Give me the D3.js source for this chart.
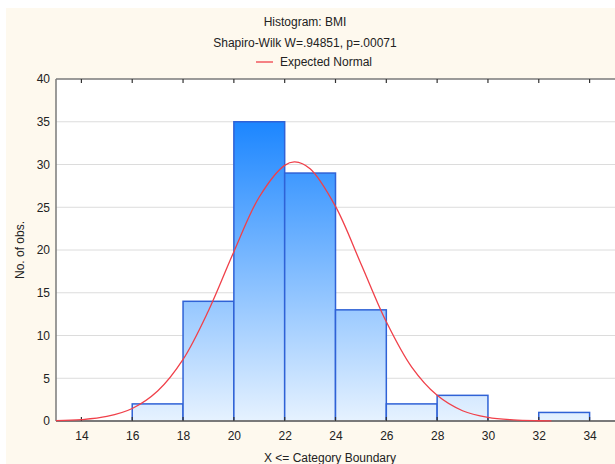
<!DOCTYPE html>
<html><head><meta charset="utf-8">
<script src="https://cdn.jsdelivr.net/npm/d3@7"></script>
<style>
html,body{margin:0;padding:0;background:#fff;}
svg{display:block;}
text{font-family:"Liberation Sans",Arial,sans-serif;fill:#222;}
</style></head><body>
<svg id="c" width="615" height="464"></svg>
<script>
// Histogram bins (lower, upper boundary) and counts
const binLower = [16, 18, 20, 22, 24, 26, 28, 30, 32];
const binUpper = [18, 20, 22, 24, 26, 28, 30, 32, 34];
const counts   = [2, 14, 35, 29, 13, 2, 3, 0, 1];
// Expected normal curve
const curveX = [13, 14, 15, 16, 17, 18, 19, 20, 21, 22, 22.4, 23, 24, 25, 26, 27, 28, 29, 30, 31, 32, 32.5];
const curveY = [0.04, 0.16, 0.53, 1.46, 3.5, 7.2, 12.9, 19.8, 26.2, 29.9, 30.3, 29.5, 25.1, 18.4, 11.6, 6.3, 3.0, 1.2, 0.42, 0.13, 0.03, 0.01];
const xTicks = [14, 16, 18, 20, 22, 24, 26, 28, 30, 32, 34];
const yTicks = [0, 5, 10, 15, 20, 25, 30, 35, 40];

const svg = d3.select("#c");
const W = 615, H = 464;
const m = {l: 56, t: 79, r: 0, b: 43};
svg.append("rect").attr("x", 6).attr("y", 8).attr("width", W - 6).attr("height", H - 8).attr("fill", "#fef9ee");

const x = d3.scaleLinear().domain([13, 35]).range([m.l, W - m.r]);
const y = d3.scaleLinear().domain([0, 40]).range([H - m.b, m.t]);

svg.append("rect").attr("x", m.l).attr("y", m.t).attr("width", W - m.l).attr("height", y(0) - m.t).attr("fill", "#fff");

const defs = svg.append("defs");
const g = defs.append("linearGradient").attr("id", "bg").attr("gradientUnits", "userSpaceOnUse")
  .attr("x1", 0).attr("x2", 0).attr("y1", y(35)).attr("y2", y(0));
g.append("stop").attr("offset", 0).attr("stop-color", "#1c86ff");
g.append("stop").attr("offset", 1).attr("stop-color", "#e6f2ff");

// gridlines
svg.append("g").selectAll("line").data(yTicks.filter(d => d > 0 && d < 40)).join("line")
  .attr("x1", m.l).attr("x2", W).attr("y1", d => y(d)).attr("y2", d => y(d))
  .attr("stroke", "#dcdcdc").attr("stroke-width", 1);

// bars
const bins = counts.map((c, i) => ({lo: binLower[i], hi: binUpper[i], c}));
svg.append("g").selectAll("rect").data(bins.filter(d => d.c > 0)).join("rect")
  .attr("x", d => x(d.lo)).attr("width", d => x(d.hi) - x(d.lo))
  .attr("y", d => y(d.c)).attr("height", d => y(0) - y(d.c))
  .attr("fill", "url(#bg)").attr("stroke", "#2f62d6").attr("stroke-width", 1.5);

// axes
const xb = d3.axisBottom(x).tickValues(xTicks).tickSize(0).tickPadding(10);
const gx = svg.append("g").attr("transform", `translate(0,${y(0)})`).call(xb);
gx.select(".domain").remove();
gx.selectAll("text").attr("font-size", 12).attr("font-family", "Liberation Sans, Arial, sans-serif").attr("fill", "#222");

const yl = d3.axisLeft(y).tickValues(yTicks).tickSize(0).tickPadding(6);
const gy = svg.append("g").attr("transform", `translate(${m.l},0)`).call(yl);
gy.select(".domain").remove();
gy.selectAll("text").attr("font-size", 12).attr("font-family", "Liberation Sans, Arial, sans-serif").attr("fill", "#222");

svg.append("line").attr("x1", m.l).attr("x2", W).attr("y1", y(0)).attr("y2", y(0)).attr("stroke", "#7a7a7a").attr("stroke-width", 2);
svg.append("line").attr("x1", m.l).attr("x2", W).attr("y1", m.t).attr("y2", m.t).attr("stroke", "#7a7a7a").attr("stroke-width", 1.5);
svg.append("line").attr("x1", m.l).attr("x2", m.l).attr("y1", m.t).attr("y2", y(0)).attr("stroke", "#7a7a7a").attr("stroke-width", 1.5);

svg.append("g").selectAll("line").data(xTicks).join("line")
  .attr("x1", d => x(d)).attr("x2", d => x(d)).attr("y1", y(0)).attr("y2", y(0) - 4)
  .attr("stroke", "#333").attr("stroke-width", 1.2);
svg.append("g").selectAll("line").data(xTicks).join("line")
  .attr("x1", d => x(d)).attr("x2", d => x(d)).attr("y1", m.t).attr("y2", m.t + 4)
  .attr("stroke", "#333").attr("stroke-width", 1.2);

// normal curve (drawn over the axis like the reference)
const line = d3.line().x(d => x(d[0])).y(d => y(d[1])).curve(d3.curveCatmullRom);
svg.append("path").datum(curveX.map((v, i) => [v, curveY[i]]))
  .attr("d", line).attr("fill", "none").attr("stroke", "#f0404a").attr("stroke-width", 1.3);

// titles
svg.append("text").attr("x", 305).attr("y", 26).attr("text-anchor", "middle").attr("font-size", 12).text("Histogram: BMI");
svg.append("text").attr("x", 305).attr("y", 47).attr("text-anchor", "middle").attr("font-size", 12).text("Shapiro-Wilk W=.94851, p=.00071");
svg.append("line").attr("x1", 256).attr("x2", 273).attr("y1", 62).attr("y2", 62).attr("stroke", "#f0404a").attr("stroke-width", 1.3);
svg.append("text").attr("x", 280).attr("y", 66).attr("font-size", 12).text("Expected Normal");

svg.append("text").attr("x", 330).attr("y", 462).attr("text-anchor", "middle").attr("font-size", 12).text("X <= Category Boundary");
svg.append("text").attr("transform", "translate(24,250) rotate(-90)").attr("text-anchor", "middle").attr("font-size", 12).text("No. of obs.");
</script>
</body></html>
